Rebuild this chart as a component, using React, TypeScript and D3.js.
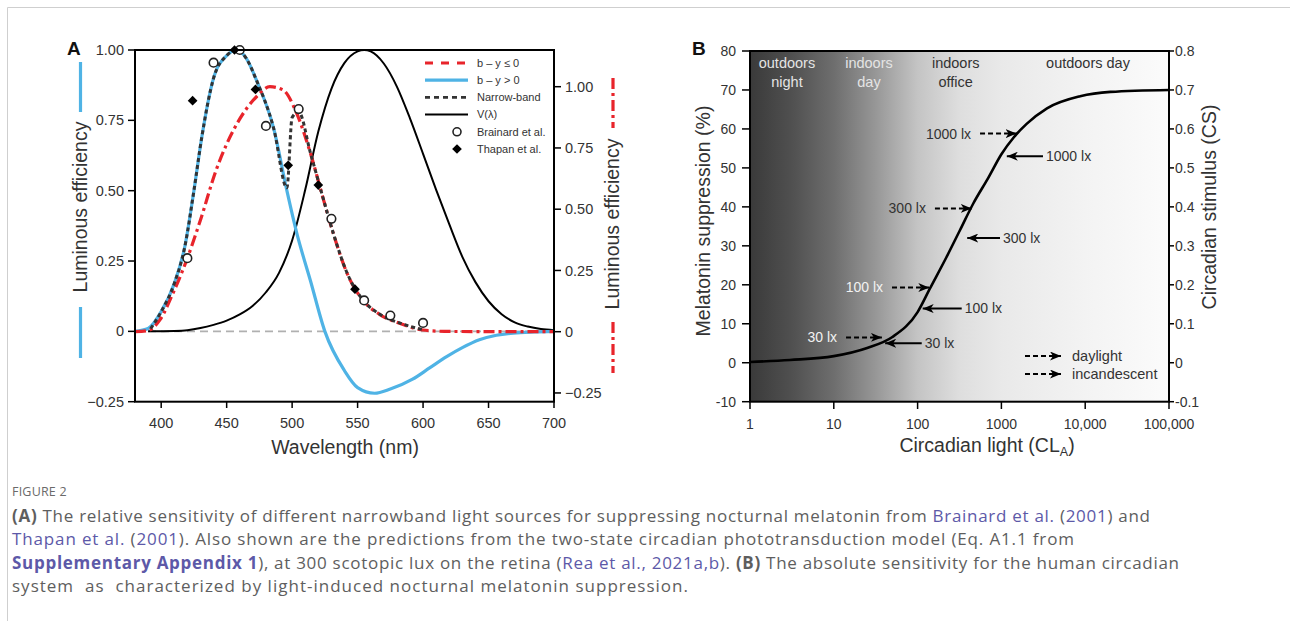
import React from "react";
import * as d3 from "d3";

// ---------- Panel A data (wavelength nm, luminous efficiency) ----------
const blueNm = [380, 390, 400, 410, 418, 425, 431, 440, 450, 458, 465, 473, 486, 496, 503.5, 514, 525, 540, 550, 563, 575, 592, 605, 618, 630, 643, 656, 669, 685, 700];
const blueVal = [0, 0.01, 0.07, 0.17, 0.3, 0.5, 0.69, 0.9, 0.98, 1.0, 0.97, 0.89, 0.72, 0.5, 0.35, 0.18, 0.0, -0.14, -0.2, -0.22, -0.205, -0.17, -0.13, -0.09, -0.058, -0.03, -0.014, -0.006, -0.002, 0];

// red curve is plotted on the right axis
const redNm = [380, 390, 399, 409, 419.5, 430, 442, 458, 473, 483, 493, 503.5, 514, 524, 531.5, 542, 554, 567, 582, 600, 620, 700];
const redVal = [0, 0.005, 0.048, 0.157, 0.293, 0.456, 0.66, 0.85, 0.96, 1.0, 0.987, 0.891, 0.728, 0.538, 0.4, 0.238, 0.129, 0.07, 0.034, 0.007, 0.001, 0];

const nbNm = [392, 400, 410, 418, 425, 431, 440, 450, 458, 465, 473, 486, 496, 500, 505, 514, 524, 531.5, 542, 554, 567, 582, 600];
const nbVal = [0.01, 0.07, 0.17, 0.3, 0.5, 0.69, 0.9, 0.98, 1.0, 0.97, 0.89, 0.72, 0.51, 0.76, 0.78, 0.634, 0.468, 0.348, 0.207, 0.112, 0.061, 0.03, 0.006];

const vNm = [390, 400, 410, 420, 430, 440, 450, 460, 470, 480, 490, 500, 510, 520, 530, 540, 550, 555, 560, 570, 580, 590, 600, 610, 620, 630, 640, 650, 660, 670, 680, 690, 700];
const vVal = [0.0001, 0.0004, 0.0012, 0.004, 0.0116, 0.023, 0.038, 0.06, 0.091, 0.139, 0.208, 0.323, 0.503, 0.71, 0.862, 0.954, 0.995, 1.0, 0.995, 0.952, 0.87, 0.757, 0.631, 0.503, 0.381, 0.265, 0.175, 0.107, 0.061, 0.032, 0.017, 0.0082, 0.0041];

const brainardNm = [420, 440, 460, 480, 505, 530, 555, 575, 600];
const brainardVal = [0.26, 0.955, 1.0, 0.73, 0.79, 0.4, 0.11, 0.056, 0.03];
const thapanNm = [424, 456, 472, 497, 520, 548];
const thapanVal = [0.82, 1.0, 0.86, 0.59, 0.52, 0.15];

const xTicksA = [400, 450, 500, 550, 600, 650, 700];
const yTicksA = [-0.25, 0, 0.25, 0.5, 0.75, 1];

const legendA = ["b \u2013 y \u2264 0", "b \u2013 y > 0", "Narrow-band", "V(\u03bb)", "Brainard et al.", "Thapan et al."];

// ---------- Panel B data (circadian light, melatonin suppression %) ----------
const claVals = [1, 3, 10, 25, 50, 100, 140, 220, 320, 460, 700, 1000, 1400, 2000, 3500, 8700, 20000, 100000];
const supVals = [0.2, 0.7, 1.7, 3.8, 6.6, 13, 19, 27, 34, 40.8, 47.5, 53.5, 57.8, 61.3, 65.3, 68.4, 69.5, 70];

const xTicksB = [1, 10, 100, 1000, 10000, 100000];
const xTickLabelsB = ["1", "10", "100", "1000", "10,000", "100,000"];
const yTicksB = [-10, 0, 10, 20, 30, 40, 50, 60, 70, 80];
const yTicksCS = [-0.1, 0, 0.1, 0.2, 0.3, 0.4, 0.5, 0.6, 0.7, 0.8];

const regions = [
  { lines: ["outdoors", "night"], cla: 2.76, light: true },
  { lines: ["indoors", "day"], cla: 26.3, light: true },
  { lines: ["indoors", "office"], cla: 285, light: false },
  { lines: ["outdoors day"], cla: 10800, light: false },
];

// daylight arrows (dashed): label, from CLA, tip CLA, % level
const dayArrows = [
  { label: "30 lx", from: 14, to: 37.5, pct: 6.5, light: true },
  { label: "100 lx", from: 49.5, to: 138, pct: 19.3, light: true },
  { label: "300 lx", from: 161, to: 443, pct: 39.6, light: false },
  { label: "1000 lx", from: 556, to: 1520, pct: 58.8, light: false },
];
// incandescent arrows (solid)
const incArrows = [
  { label: "30 lx", from: 112, to: 41, pct: 5.0 },
  { label: "100 lx", from: 336, to: 115, pct: 13.9 },
  { label: "300 lx", from: 962, to: 391, pct: 32 },
  { label: "1000 lx", from: 3135, to: 1160, pct: 53 },
];
const legendB = ["daylight", "incandescent"];

// ---------- caption ----------
type Seg = [string, string];
const captionLines: Seg[][] = [
  [["(A)", "b"], [" The relative sensitivity of different narrowband light sources for suppressing nocturnal melatonin from ", "n"], ["Brainard et al.", "l"], [" (", "n"], ["2001", "l"], [") and", "n"]],
  [["Thapan et al.", "l"], [" (", "n"], ["2001", "l"], ["). Also shown are the predictions from the two-state circadian phototransduction model (Eq. A1.1 from", "n"]],
  [["Supplementary Appendix 1", "bl"], ["), at 300 scotopic lux on the retina (", "n"], ["Rea et al., 2021a,b", "l"], ["). ", "n"], ["(B)", "b"], [" The absolute sensitivity for the human circadian", "n"]],
  [["system  as  characterized by light-induced nocturnal melatonin suppression.", "n"]],
];
const captionWidths = [1138, 1062, 1167, 676];

const FONT = "'Liberation Sans', Arial, Helvetica, sans-serif";
const TXT = "#333";
const BLUE = "#4fb3e5";
const RED = "#e8242b";
const LINK = "#5d59a8";
const CAP = "#5e5e5e";

const fmtA = (v: number) => (v === 0 ? "0" : v < 0 ? "\u2212" + Math.abs(v).toFixed(2) : v.toFixed(2));
const fmtCS = (v: number) => (v === 0 ? "0" : d3.format(".1f")(v).replace("\u2212", "-"));

const App = () => {
  // panel A scales
  const xA = d3.scaleLinear().domain([380, 700]).range([135, 554]);
  const yL = d3.scaleLinear().domain([-0.25, 1]).range([401.7, 50]);
  const yR = d3.scaleLinear().domain([0, 1]).range([331.7, 86.7]);

  const lineL = d3
    .line<[number, number]>()
    .x((d) => xA(d[0]))
    .y((d) => yL(d[1]))
    .curve(d3.curveMonotoneX);
  const lineR = d3
    .line<[number, number]>()
    .x((d) => xA(d[0]))
    .y((d) => yR(d[1]))
    .curve(d3.curveMonotoneX);

  const zip = (a: number[], b: number[]) => a.map((v, i) => [v, b[i]] as [number, number]);

  // panel B scales
  const xB = d3.scaleLog().domain([1, 100000]).range([750, 1169]);
  const yB = d3.scaleLinear().domain([-10, 80]).range([401.7, 51]);
  const yCS = d3.scaleLinear().domain([-0.1, 0.8]).range([401.7, 51]);
  const lineB = d3
    .line<[number, number]>()
    .x((d) => xB(d[0]))
    .y((d) => yB(d[1]))
    .curve(d3.curveMonotoneX);

  const legRowY = (i: number) => 63 + i * 17.2;
  const lx0 = 425;
  const lx1 = 468;

  return (
    <svg width={1290} height={621} style={{ display: "block", position: "absolute", left: 0, top: 0, background: "#fff" }} fontFamily={FONT}>
      <defs>
        <linearGradient id="bgB" x1="750" x2="1169" y1="0" y2="0" gradientUnits="userSpaceOnUse">
          <stop offset="0" stopColor="#3a3a3a" />
          <stop offset="0.1" stopColor="#505050" />
          <stop offset="0.2" stopColor="#6e6e6e" />
          <stop offset="0.3" stopColor="#979797" />
          <stop offset="0.4" stopColor="#c4c4c4" />
          <stop offset="0.5" stopColor="#dedede" />
          <stop offset="0.6" stopColor="#e9e9e9" />
          <stop offset="0.8" stopColor="#f3f3f3" />
          <stop offset="1" stopColor="#fbfbfb" />
        </linearGradient>
        <marker id="ah" viewBox="0 0 11 9" refX="11" refY="4.5" markerWidth="11" markerHeight="9" markerUnits="userSpaceOnUse" orient="auto">
          <path d="M0,0 L11,4.5 L0,9 L3,4.5 Z" fill="#000" />
        </marker>
      </defs>

      {/* page frame */}
      <line x1={7.5} y1={7.5} x2={1290} y2={7.5} stroke="#cfcfcf" strokeWidth={1} />
      <line x1={7.5} y1={7.5} x2={7.5} y2={621} stroke="#cfcfcf" strokeWidth={1} />

      {/* ================= Panel A ================= */}
      <text x={67} y={55} fontSize={19} fontWeight="bold" fill="#111">A</text>

      {/* zero reference */}
      <line x1={xA(380)} x2={xA(700)} y1={yL(0)} y2={yL(0)} stroke="#b0b0b0" strokeWidth={1.8} strokeDasharray="8,5" />

      {/* V(lambda) */}
      <path d={lineL(zip(vNm, vVal)) || ""} fill="none" stroke="#000" strokeWidth={2} />
      {/* b-y > 0 */}
      <path d={lineL(zip(blueNm, blueVal)) || ""} fill="none" stroke={BLUE} strokeWidth={3.2} />
      {/* b-y <= 0 (right axis) */}
      <path d={lineR(zip(redNm, redVal)) || ""} fill="none" stroke={RED} strokeWidth={3.2} strokeDasharray="11,4,3,4" />
      {/* narrow-band */}
      <path d={lineL(zip(nbNm, nbVal)) || ""} fill="none" stroke="#333" strokeWidth={3} strokeDasharray="4,3" />

      {/* data points */}
      {brainardNm.map((n, i) => (
        <circle key={"b" + i} cx={xA(n)} cy={yL(brainardVal[i])} r={4.3} fill="#fff" stroke="#222" strokeWidth={1.6} />
      ))}
      {thapanNm.map((n, i) => (
        <path
          key={"t" + i}
          d={d3.symbol(d3.symbolDiamond2, 60)() || ""}
          transform={`translate(${xA(n)},${yL(thapanVal[i])})`}
          fill="#000"
        />
      ))}

      {/* frame */}
      <rect x={135} y={50} width={419} height={351.7} fill="none" stroke="#000" strokeWidth={2} />

      {/* left axis */}
      {yTicksA.map((t) => (
        <g key={"yl" + t}>
          <line x1={128} x2={135} y1={yL(t)} y2={yL(t)} stroke="#000" strokeWidth={1.5} />
          <text x={124} y={yL(t)} dy="0.35em" textAnchor="end" fontSize={14.5} fill={TXT}>{fmtA(t)}</text>
        </g>
      ))}
      {/* right axis */}
      {yTicksA.map((t) => (
        <g key={"yr" + t}>
          <line x1={554} x2={561} y1={yR(t)} y2={yR(t)} stroke="#000" strokeWidth={1.5} />
          <text x={565} y={yR(t)} dy="0.35em" fontSize={14.5} fill={TXT}>{fmtA(t)}</text>
        </g>
      ))}
      {/* bottom axis */}
      {xTicksA.map((t) => (
        <g key={"xa" + t}>
          <line x1={xA(t)} x2={xA(t)} y1={401.7} y2={408} stroke="#000" strokeWidth={1.5} />
          <text x={xA(t)} y={428} textAnchor="middle" fontSize={14.5} fill={TXT}>{t}</text>
        </g>
      ))}
      <text x={345} y={454} textAnchor="middle" fontSize={19.5} fill={TXT}>Wavelength (nm)</text>

      {/* left title with blue key */}
      <line x1={80.5} x2={80.5} y1={62} y2={112} stroke={BLUE} strokeWidth={3.2} />
      <line x1={80.5} x2={80.5} y1={307} y2={358} stroke={BLUE} strokeWidth={3.2} />
      <text transform="translate(80,207) rotate(-90)" textAnchor="middle" dominantBaseline="central" fontSize={19.5} fill={TXT}>Luminous efficiency</text>
      {/* right title with red key */}
      <line x1={613} x2={613} y1={78} y2={128} stroke={RED} strokeWidth={3.2} strokeDasharray="11,4,3,4" />
      <line x1={613} x2={613} y1={322} y2={373} stroke={RED} strokeWidth={3.2} strokeDasharray="11,4,3,4" />
      <text transform="translate(612,224) rotate(-90)" textAnchor="middle" dominantBaseline="central" fontSize={19.5} fill={TXT}>Luminous efficiency</text>

      {/* legend A */}
      <line x1={lx0} x2={lx1} y1={legRowY(0)} y2={legRowY(0)} stroke={RED} strokeWidth={3.2} strokeDasharray="8,8" />
      <line x1={lx0} x2={lx1} y1={legRowY(1)} y2={legRowY(1)} stroke={BLUE} strokeWidth={3.2} />
      <line x1={lx0} x2={lx1} y1={legRowY(2)} y2={legRowY(2)} stroke="#333" strokeWidth={2.6} strokeDasharray="5,4" />
      <line x1={lx0} x2={lx1} y1={legRowY(3)} y2={legRowY(3)} stroke="#000" strokeWidth={2} />
      <circle cx={457} cy={legRowY(4)} r={4} fill="#fff" stroke="#222" strokeWidth={1.6} />
      <path d={d3.symbol(d3.symbolDiamond2, 60)() || ""} transform={`translate(457,${legRowY(5)})`} fill="#000" />
      {legendA.map((s, i) => (
        <text key={"la" + i} x={477} y={legRowY(i)} dy="0.35em" fontSize={11} fill={TXT}>{s}</text>
      ))}

      {/* ================= Panel B ================= */}
      <text x={692} y={55} fontSize={19} fontWeight="bold" fill="#111">B</text>
      <rect x={750} y={51} width={419} height={350.7} fill="url(#bgB)" />

      {regions.map((r, i) => (
        <text key={"rg" + i} x={xB(r.cla)} y={68} textAnchor="middle" fontSize={14.5} fill={r.light ? "#e4e4e4" : TXT}>
          {r.lines.map((l, j) => (
            <tspan key={j} x={xB(r.cla)} dy={j === 0 ? 0 : 19}>{l}</tspan>
          ))}
        </text>
      ))}

      <path d={lineB(zip(claVals, supVals)) || ""} fill="none" stroke="#000" strokeWidth={2.6} />

      {dayArrows.map((a, i) => (
        <g key={"da" + i}>
          <line x1={xB(a.from)} x2={xB(a.to)} y1={yB(a.pct)} y2={yB(a.pct)} stroke="#000" strokeWidth={2} strokeDasharray="5,3" markerEnd="url(#ah)" />
          <text x={xB(a.from) - 9} y={yB(a.pct)} dy="0.35em" textAnchor="end" fontSize={14} fill={a.light ? "#f2f2f2" : TXT}>{a.label}</text>
        </g>
      ))}
      {incArrows.map((a, i) => (
        <g key={"ia" + i}>
          <line x1={xB(a.from)} x2={xB(a.to)} y1={yB(a.pct)} y2={yB(a.pct)} stroke="#000" strokeWidth={2} markerEnd="url(#ah)" />
          <text x={xB(a.from) + 3} y={yB(a.pct)} dy="0.35em" fontSize={14} fill={TXT}>{a.label}</text>
        </g>
      ))}

      {legendB.map((s, i) => (
        <g key={"lb" + i}>
          <line x1={1025} x2={1061} y1={356 + i * 18} y2={356 + i * 18} stroke="#000" strokeWidth={2} strokeDasharray="5,3" markerEnd="url(#ah)" />
          <text x={1072} y={356 + i * 18} dy="0.35em" fontSize={14.5} fill={TXT}>{s}</text>
        </g>
      ))}

      <rect x={750} y={51} width={419} height={350.7} fill="none" stroke="#000" strokeWidth={2} />

      {yTicksB.map((t) => (
        <g key={"yb" + t}>
          <line x1={742} x2={750} y1={yB(t)} y2={yB(t)} stroke="#000" strokeWidth={1.5} />
          <text x={736} y={yB(t)} dy="0.35em" textAnchor="end" fontSize={14} fill={TXT}>{t}</text>
        </g>
      ))}
      {yTicksCS.map((t) => (
        <g key={"yc" + t}>
          <line x1={1169} x2={1174} y1={yCS(t)} y2={yCS(t)} stroke="#000" strokeWidth={1.5} />
          <text x={1175} y={yCS(t)} dy="0.35em" fontSize={14} fill={TXT}>{fmtCS(t)}</text>
        </g>
      ))}
      {xTicksB.map((t, i) => (
        <g key={"xb" + t}>
          <line x1={xB(t)} x2={xB(t)} y1={401.7} y2={409} stroke="#000" strokeWidth={1.5} />
          <text x={xB(t)} y={429} textAnchor="middle" fontSize={14} fill={TXT}>{xTickLabelsB[i]}</text>
        </g>
      ))}
      <text x={987} y={452} textAnchor="middle" fontSize={19.5} fill={TXT}>
        Circadian light (CL<tspan fontSize={12.5} dy={4}>A</tspan><tspan dy={-4}>)</tspan>
      </text>
      <text transform="translate(703,221) rotate(-90)" textAnchor="middle" dominantBaseline="central" fontSize={19.5} fill={TXT}>Melatonin suppression (%)</text>
      <text transform="translate(1209,207) rotate(-90)" textAnchor="middle" dominantBaseline="central" fontSize={19.5} fill={TXT}>Circadian stimulus (CS)</text>

      {/* ================= Caption ================= */}
      <text x={12} y={496} fontFamily="'Open Sans', sans-serif" fontSize={12.5} fill="#6a6a6a" letterSpacing={0.2}>FIGURE 2</text>
      {captionLines.map((segs, i) => (
        <text
          key={"cap" + i}
          x={12}
          y={522 + i * 23.3}
          fontFamily="'Open Sans', sans-serif"
          fontSize={17}
          fill={CAP}
          textLength={captionWidths[i]}
          lengthAdjust="spacing"
          style={{ whiteSpace: "pre" }}
        >
          {segs.map(([s, k], j) => (
            <tspan key={j} fill={k === "l" || k === "bl" ? LINK : CAP} fontWeight={k === "b" || k === "bl" ? "bold" : "normal"}>{s}</tspan>
          ))}
        </text>
      ))}
    </svg>
  );
};

export default App;
